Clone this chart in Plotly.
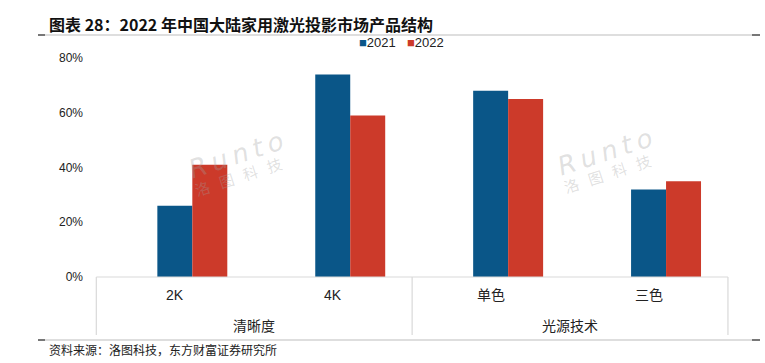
import plotly.graph_objects as go

# ---- data ----
categories = ["2K", "4K", "单色", "三色"]
groups = ["清晰度", "光源技术"]
group_sizes = [2, 2]
series_names = ["2021", "2022"]
values_2021 = [0.26, 0.74, 0.68, 0.32]
values_2022 = [0.41, 0.59, 0.65, 0.35]
y_ticks = [0, 0.2, 0.4, 0.6, 0.8]

# ---- style ----
C_BLUE = "#0A5688"
C_RED = "#CC3A2A"
FONT = "Liberation Sans, Arial, Noto Sans CJK SC, sans-serif"
CJK = "Noto Sans CJK SC, Liberation Sans, sans-serif"
W, H = 765, 363
ML, MR, MT, MB = 96, 20, 58, 86
XR = [-0.61, 3.5]
LABEL_SHIFT = -0.108   # category labels / boxes sit slightly left of bars

xs = list(range(len(categories)))

fig = go.Figure()
fig.add_trace(go.Bar(x=xs, y=values_2021, name=series_names[0],
                     marker=dict(color=C_BLUE, line=dict(width=0))))
fig.add_trace(go.Bar(x=xs, y=values_2022, name=series_names[1],
                     marker=dict(color=C_RED, line=dict(width=0))))

plot_w = W - ML - MR
plot_h = H - MT - MB


def px_x(px):
    return (px - ML) / plot_w


def px_y(py):
    return (H - MB - py) / plot_h


def data_to_paper_x(x):
    return (x - XR[0]) / (XR[1] - XR[0])


shapes = []
annotations = []
line_col = "#D9D9D9"

# category box boundaries
bounds = [-0.5 + LABEL_SHIFT]
acc = 0
for n in group_sizes:
    acc += n
    bounds.append(acc - 0.5 + LABEL_SHIFT)
box_bottom = px_y(335)
shapes.append(dict(type="line", xref="paper", yref="paper",
                   x0=data_to_paper_x(bounds[0]), x1=data_to_paper_x(bounds[-1]),
                   y0=0, y1=0, line=dict(color=line_col, width=1.2)))
for b in bounds:
    shapes.append(dict(type="line", xref="paper", yref="paper",
                       x0=data_to_paper_x(b), x1=data_to_paper_x(b),
                       y0=0, y1=box_bottom, line=dict(color=line_col, width=1.2)))

# category labels
for i, c in enumerate(categories):
    annotations.append(dict(text=c, xref="paper", yref="paper",
                            x=data_to_paper_x(i + LABEL_SHIFT), y=px_y(295),
                            showarrow=False, xanchor="center", yanchor="middle",
                            font=dict(size=14, color="#222", family=FONT)))
# group labels
for gi, g in enumerate(groups):
    mid = (bounds[gi] + bounds[gi + 1]) / 2
    annotations.append(dict(text=g, xref="paper", yref="paper",
                            x=data_to_paper_x(mid), y=px_y(325),
                            showarrow=False, xanchor="center", yanchor="middle",
                            font=dict(size=14, color="#222", family=CJK)))

# title
annotations.append(dict(text="<b>图表 28：2022 年中国大陆家用激光投影市场产品结构</b>",
                        xref="paper", yref="paper", x=px_x(47), y=px_y(24),
                        showarrow=False, xanchor="left", yanchor="middle",
                        font=dict(size=16, color="#111", family=CJK)))
# source
annotations.append(dict(text="资料来源：洛图科技，东方财富证券研究所",
                        xref="paper", yref="paper", x=px_x(47), y=px_y(349),
                        showarrow=False, xanchor="left", yanchor="middle",
                        font=dict(size=12, color="#222", family=CJK)))

# header / footer rules
for yy in (35, 340):
    shapes.append(dict(type="line", xref="paper", yref="paper",
                       x0=px_x(38), x1=px_x(760), y0=px_y(yy), y1=px_y(yy),
                       line=dict(color="#BDBDBD", width=1.2)))
    shapes.append(dict(type="line", xref="paper", yref="paper",
                       x0=px_x(752), x1=px_x(760), y0=px_y(yy), y1=px_y(yy),
                       line=dict(color="#555", width=1.5)))
    shapes.append(dict(type="line", xref="paper", yref="paper",
                       x0=px_x(38), x1=px_x(45), y0=px_y(yy), y1=px_y(yy),
                       line=dict(color="#555", width=1.5)))

# legend (custom)
legend_x = [357, 405]
for name, col, lx in zip(series_names, [C_BLUE, C_RED], legend_x):
    annotations.append(dict(text=f"<span style='color:{col}'>■</span>{name}",
                            xref="paper", yref="paper", x=px_x(lx), y=px_y(43),
                            showarrow=False, xanchor="left", yanchor="middle",
                            font=dict(size=13, color="#222", family=FONT)))

# watermarks
wm_col = "rgba(160,160,160,0.32)"
for cx, cy1, cy2 in [(236, 155, 176), (605, 152, 173)]:
    annotations.append(dict(text="<i>R\u2009u\u2009n\u2009t\u2009o</i>", xref="paper", yref="paper",
                            x=px_x(cx), y=px_y(cy1), showarrow=False, textangle=-18,
                            xanchor="center", yanchor="middle",
                            font=dict(size=26, color=wm_col, family="DejaVu Sans")))
    annotations.append(dict(text="洛   图   科   技", xref="paper", yref="paper",
                            x=px_x(cx + 2), y=px_y(cy2), showarrow=False, textangle=-18,
                            xanchor="center", yanchor="middle",
                            font=dict(size=15, color=wm_col, family=CJK)))

fig.update_layout(
    width=W, height=H,
    margin=dict(l=ML, r=MR, t=MT, b=MB),
    paper_bgcolor="white", plot_bgcolor="white",
    barmode="group", bargap=0.557, bargroupgap=0,
    showlegend=False,
    shapes=shapes, annotations=annotations,
    xaxis=dict(range=XR, showticklabels=False, showgrid=False, zeroline=False,
               showline=False, ticks="", fixedrange=True),
    yaxis=dict(range=[0, 0.8], tickvals=y_ticks, tickformat=".0%",
               showgrid=False, zeroline=False, showline=False, ticks="",
               ticklabelstandoff=12,
               tickfont=dict(size=12, color="#222", family=FONT)),
    font=dict(family=FONT),
)

fig.write_html("out.html",
               config=dict(displayModeBar=False),
               post_script="document.body.style.margin='0px';document.body.style.padding='0px';")
